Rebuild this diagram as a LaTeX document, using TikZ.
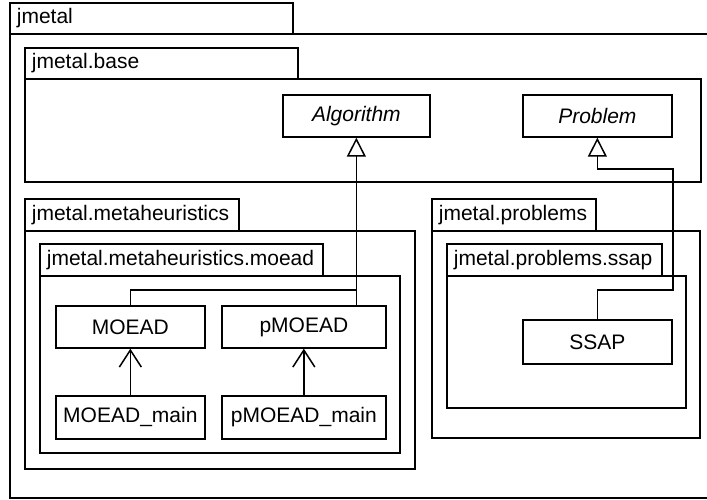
\documentclass[tikz,border=0pt]{standalone}
\usepackage{fontspec}
\setmainfont{Liberation Sans}
\usetikzlibrary{arrows.meta}
\begin{document}
\begin{tikzpicture}[x=1pt,y=-1pt,line width=1.7pt,
  font=\fontsize{21}{25}\selectfont,
  pkg/.style={draw,line width=1.7pt},
  pkglbl/.style={anchor=west,inner sep=2pt},
  cls/.style={draw,line width=1.7pt,anchor=north west,inner sep=0pt},
  gen/.style={-{Triangle[open,length=19pt,width=19pt,line width=1.5pt]}},
  dep/.style={-{Straight Barb[length=17pt,width=22pt,line width=1.5pt]}}]
\useasboundingbox (0,0) rectangle (707,500);
\clip (0,0) rectangle (707,500);
\fill[white] (0,0) rectangle (707,500);
% packages
\draw[pkg] (10,3) rectangle (293,34);
\draw[pkg] (10,34) rectangle (720,498);
\node[pkglbl] (lJmetal) at (14,18.5) {jmetal};
\draw[pkg] (25,48) rectangle (298,79);
\draw[pkg] (25,79) rectangle (701,182);
\node[pkglbl] (lBase) at (29,63.5) {jmetal.base};
\draw[pkg] (25,199) rectangle (239,231);
\draw[pkg] (25,231) rectangle (415,469);
\node[pkglbl] (lMeta) at (29,215) {jmetal.metaheuristics};
\draw[pkg] (40,244) rectangle (323,276);
\draw[pkg] (40,276) rectangle (400,453);
\node[pkglbl] (lMoead) at (44,260) {jmetal.metaheuristics.moead};
\draw[pkg] (432,199) rectangle (596,231);
\draw[pkg] (432,231) rectangle (700,438);
\node[pkglbl] (lProb) at (436,215) {jmetal.problems};
\draw[pkg] (447,244) rectangle (662,276);
\draw[pkg] (447,276) rectangle (686,408);
\node[pkglbl] (lSsap) at (451,260) {jmetal.problems.ssap};
% classes
\node[cls,minimum width=147pt,minimum height=42pt] (Algorithm) at (282,94) {\itshape Algorithm};
\node[cls,minimum width=149pt,minimum height=42pt] (Problem) at (522,94) {\itshape Problem};
\node[cls,minimum width=149pt,minimum height=42pt] (MOEAD) at (55,305) {MOEAD};
\node[cls,minimum width=164pt,minimum height=42pt] (pMOEAD) at (221,305) {pMOEAD};
\node[cls,minimum width=149pt,minimum height=43pt] (MOEADmain) at (55,395) {MOEAD\_main};
\node[cls,minimum width=164pt,minimum height=43pt] (pMOEADmain) at (221,395) {pMOEAD\_main};
\node[cls,minimum width=149pt,minimum height=44pt] (SSAP) at (522,319) {SSAP};
% connectors
\coordinate (j1) at (Algorithm.south |- 0,290);
\draw[gen] (pMOEAD.north -| Algorithm.south) -- (Algorithm.south);
\draw (MOEAD.north) |- (j1);
\coordinate (p1) at (673,290);
\coordinate (p2) at (673,169);
\draw[gen] (SSAP.north) |- (p1) -- (p2) -| (Problem.south);
\draw[dep] (MOEADmain.north) -- (MOEAD.south);
\draw[dep] (pMOEADmain.north) -- (pMOEAD.south);
\end{tikzpicture}
\end{document}
